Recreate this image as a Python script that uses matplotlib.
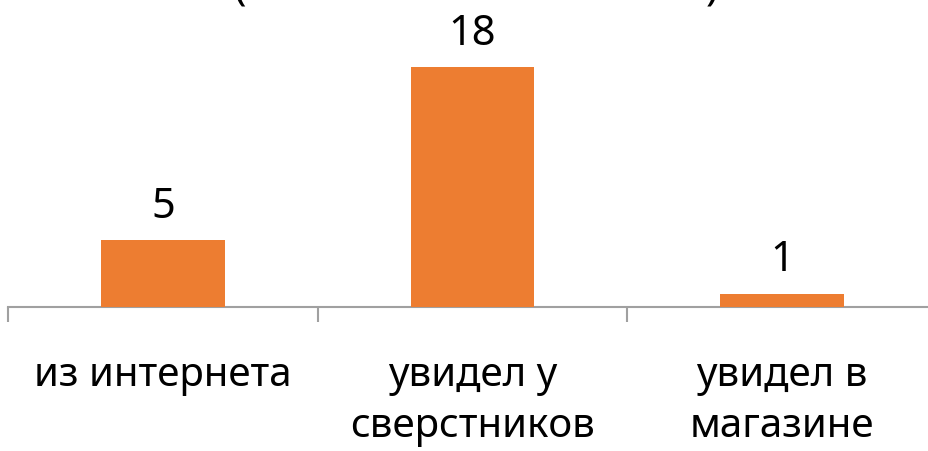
import matplotlib
matplotlib.use("Agg")
import matplotlib.pyplot as plt
from matplotlib.transforms import blended_transform_factory

categories = ["из интернета", "увидел у\nсверстников", "увидел в\nмагазине"]
values = [5, 18, 1]

plt.rcParams['font.family'] = ['Noto Sans', 'DejaVu Sans']

W, H = 929, 451
fig = plt.figure(figsize=(W/100, H/100), dpi=100)
ax_left = 8 / W
ax_w = 3 * 309.7 / W
ax_bottom = (H - 307) / H
ymax = 20
ax_h = ymax * (240 / 18) / H
ax = fig.add_axes([ax_left, ax_bottom, ax_w, ax_h])

x = list(range(len(categories)))
bars = ax.bar(x, values, width=0.4, color="#ED7D31", zorder=3)
ax.set_xlim(-0.5, len(categories) - 0.5)
ax.set_ylim(0, ymax)

for s in ["top", "right", "left"]:
    ax.spines[s].set_visible(False)
ax.spines["bottom"].set_color("#a0a0a0")
ax.spines["bottom"].set_linewidth(1.5)
ax.set_yticks([])
ax.set_xticks([i - 0.5 for i in range(len(categories) + 1)])
ax.set_xticklabels([])
ax.tick_params(axis="x", length=11, width=1.5, color="#a0a0a0", direction="out")

for b, v in zip(bars, values):
    ax.annotate(str(v), (b.get_x() + b.get_width()/2, v), xytext=(0, 16),
                textcoords="offset points", ha="center", va="baseline",
                fontsize=30, color="black")

tr = blended_transform_factory(ax.transData, fig.transFigure)
for i, c in enumerate(categories):
    ax.text(i, (H - 356) / H, c, transform=tr, ha="center", va="top",
            fontsize=29, color="black", linespacing=1.36)

# partially visible title (cropped at top of image)
fig.text(240 / W, (H - 10) / H, "(", ha="center", va="bottom", fontsize=30, color="black")
fig.text(712 / W, (H - 10) / H, ")", ha="center", va="bottom", fontsize=30, color="black")

fig.savefig("out.png", dpi=100)
